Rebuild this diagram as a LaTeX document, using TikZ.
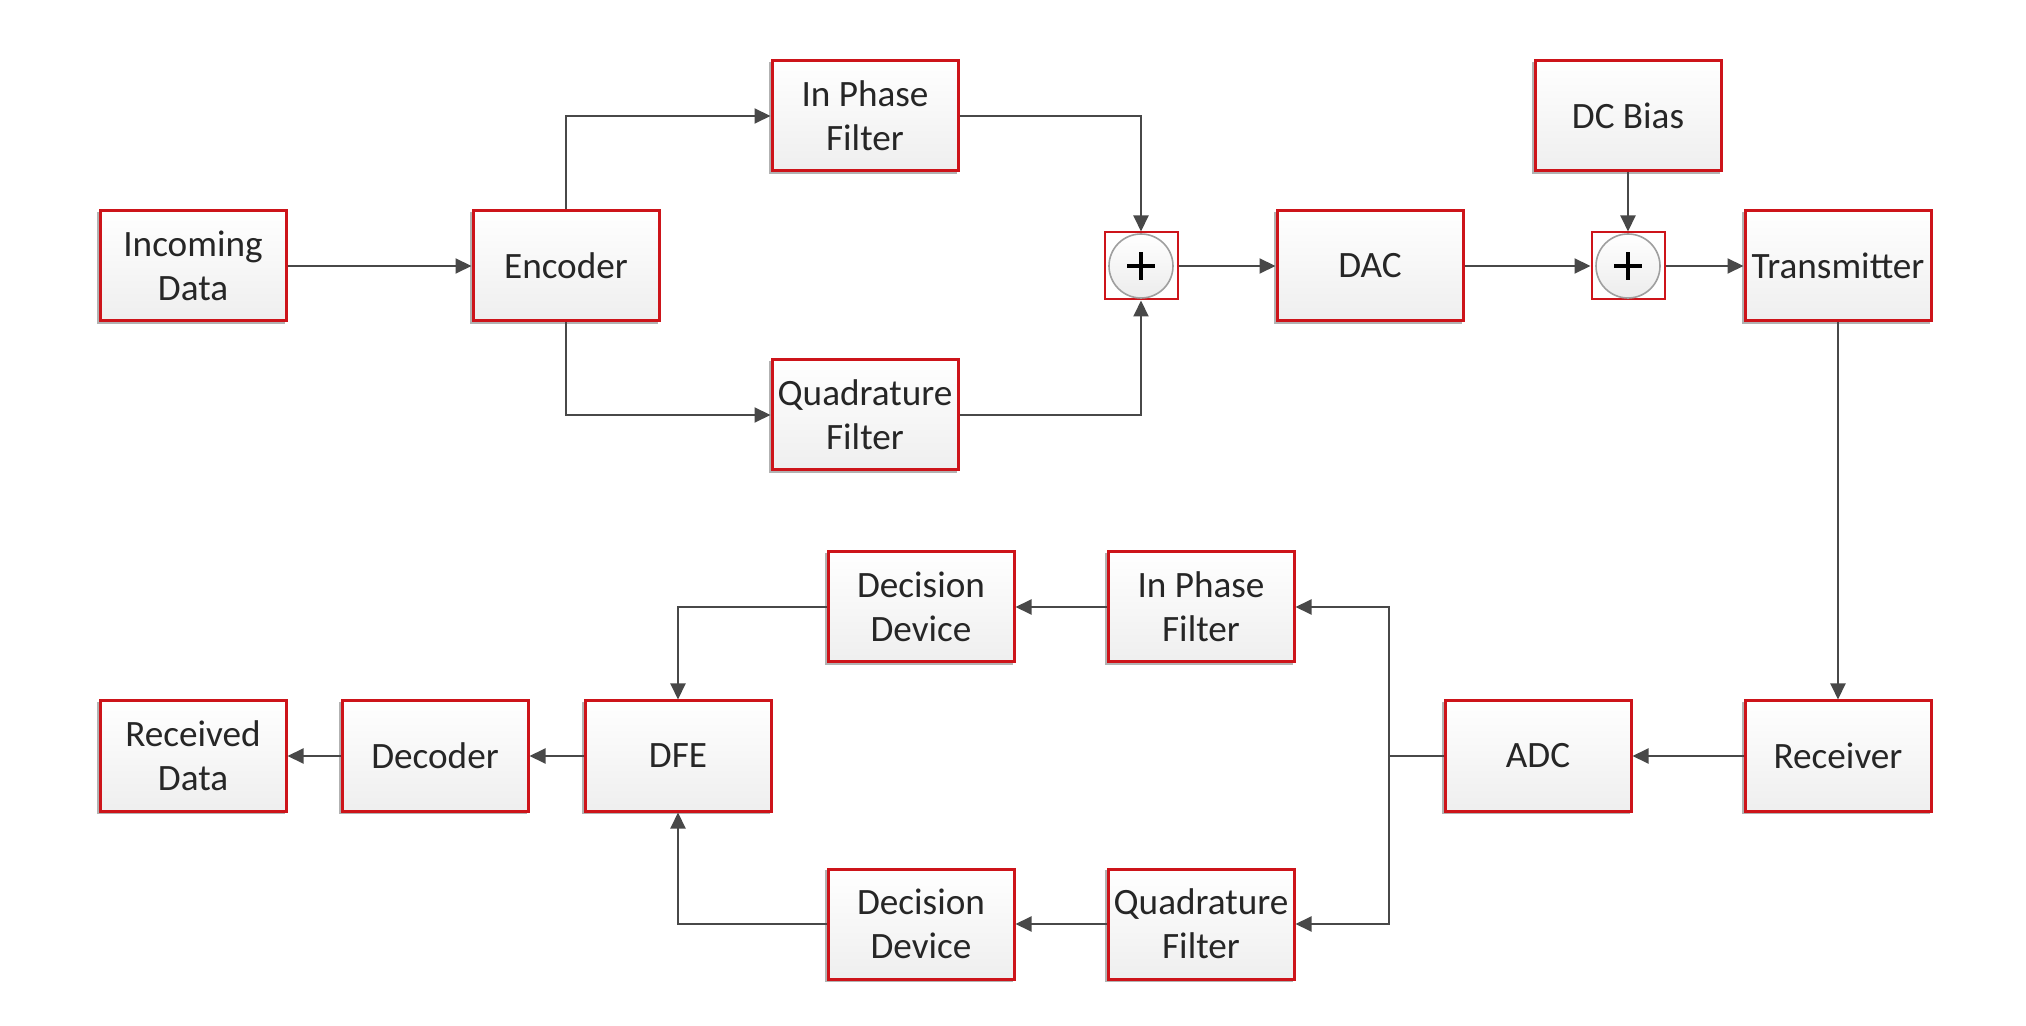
\documentclass[tikz,border=0pt]{standalone}
\usepackage{fontspec}
\setmainfont{Carlito}
\usetikzlibrary{arrows.meta}
\definecolor{boxred}{RGB}{205,20,26}
\definecolor{linegray}{RGB}{72,72,72}
\begin{document}
\begin{tikzpicture}[x=0.5pt,y=-0.5pt,
  blk/.style={draw=boxred, line width=1.5pt, top color=white, bottom color=gray!13,
    minimum width=93pt, minimum height=55pt, align=center, inner sep=0pt,
    font=\fontsize{18.6}{22}\selectfont, text=black!85,
    preaction={draw=gray!60, line width=1.4pt, transform canvas={xshift=-1pt, yshift=-1pt}}},
  sumbox/.style={draw=boxred, line width=1pt, minimum width=36.5pt, minimum height=33.5pt, inner sep=0pt},
  conn/.style={draw=linegray, line width=1pt, -{Triangle[length=8pt,width=7.5pt]}},
  plain/.style={draw=linegray, line width=1pt}
]
\useasboundingbox (0,0) rectangle (2026,1026);
% top row
\node[blk] (in)  at (193,266) {Incoming\\Data};
\node[blk] (enc) at (566,266) {Encoder};
\node[blk] (ipf) at (865,116) {In Phase\\Filter};
\node[blk] (qf)  at (865,415) {Quadrature\\Filter};
\node[sumbox] (s1) at (1141,266) {};
\node[blk] (dac) at (1370,266) {DAC};
\node[blk] (dc)  at (1628,116) {DC Bias};
\node[sumbox] (s2) at (1628,266) {};
\node[blk] (tx)  at (1838,266) {Transmitter};
% adders
\foreach \s in {s1,s2}{
  \draw[draw=gray!75, line width=0.8pt, top color=white, bottom color=gray!15] (\s.center) circle (16pt);
  \draw[black, line width=2pt] ([xshift=-6.8pt]\s.center) -- ([xshift=6.8pt]\s.center);
  \draw[black, line width=2pt] ([yshift=-6.8pt]\s.center) -- ([yshift=6.8pt]\s.center);
}
% bottom part
\node[blk] (rx)   at (1838,756) {Receiver};
\node[blk] (adc)  at (1538,756) {ADC};
\node[blk] (ipf2) at (1201,607) {In Phase\\Filter};
\node[blk] (qf2)  at (1201,924) {Quadrature\\Filter};
\node[blk] (dd1)  at (921,607) {Decision\\Device};
\node[blk] (dd2)  at (921,924) {Decision\\Device};
\node[blk] (dfe)  at (678,756) {DFE};
\node[blk] (dec)  at (435,756) {Decoder};
\node[blk] (rd)   at (193,756) {Received\\Data};
\coordinate (sp) at (1389,756);
% connectors
\draw[conn] (in) -- (enc);
\draw[conn] (enc.north) |- (ipf.west);
\draw[conn] (enc.south) |- (qf.west);
\draw[conn] (ipf.east) -| (s1.north);
\draw[conn] (qf.east) -| (s1.south);
\draw[conn] (s1) -- (dac);
\draw[conn] (dac) -- (s2);
\draw[conn] (dc) -- (s2);
\draw[conn] (s2) -- (tx);
\draw[conn] (tx) -- (rx);
\draw[conn] (rx) -- (adc);
\draw[plain] (adc.west) -- (sp);
\draw[conn] (sp) |- (ipf2.east);
\draw[conn] (sp) |- (qf2.east);
\draw[conn] (ipf2) -- (dd1);
\draw[conn] (qf2) -- (dd2);
\draw[conn] (dd1.west) -| (dfe.north);
\draw[conn] (dd2.west) -| (dfe.south);
\draw[conn] (dfe) -- (dec);
\draw[conn] (dec) -- (rd);
\end{tikzpicture}
\end{document}
